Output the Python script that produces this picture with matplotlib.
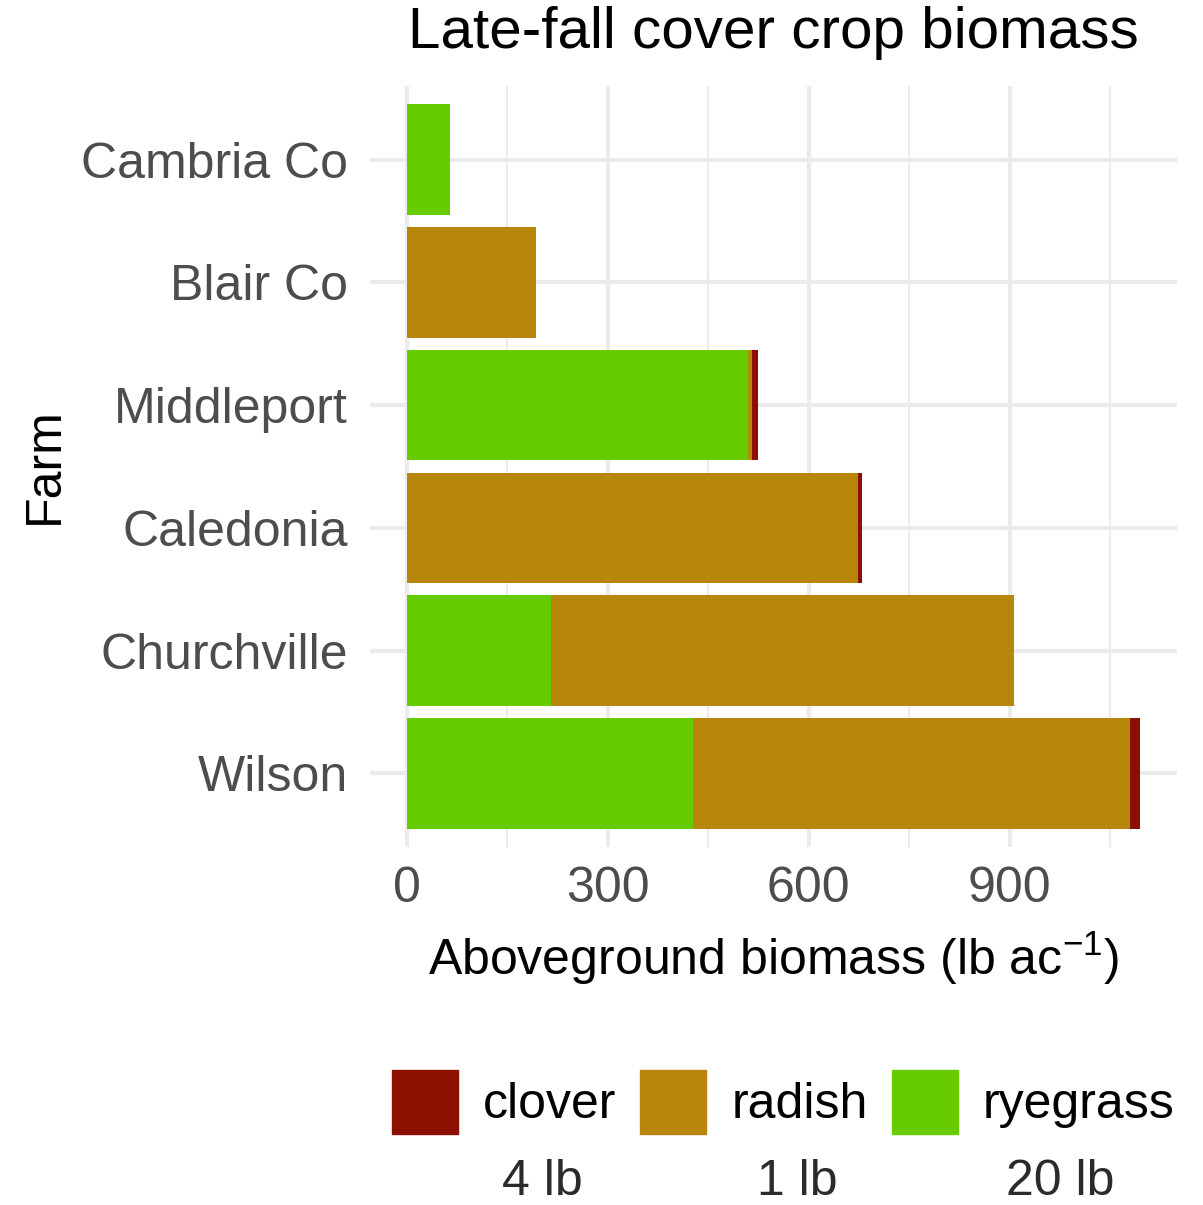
#kirjastot
import numpy as np
import matplotlib.pyplot as plt
from matplotlib.patches import Patch

plt.rcParams['font.family'] = ['Liberation Sans', 'DejaVu Sans']
plt.rcParams['mathtext.fontset'] = 'custom'
plt.rcParams['mathtext.rm'] = 'Liberation Sans'
plt.rcParams['mathtext.it'] = 'Liberation Sans'

# data (lb/ac), alhaalta ylös
farms = ['Wilson', 'Churchville', 'Caledonia', 'Middleport', 'Blair Co', 'Cambria Co']
ryegrass = [427, 216, 0, 509, 0, 64]
radish = [652, 691, 673, 7, 193, 0]
clover = [16, 0, 6, 8, 0, 0]
seed_rates = ['4 lb', '1 lb', '20 lb']

col_clover = '#8B1000'
col_radish = '#B8860B'
col_rye = '#66CC00'

fig = plt.figure(figsize=(12.03, 12.05), dpi=100)
W, H = 1203, 1205
ax = fig.add_axes([370 / W, 1 - 847 / H, (1177 - 370) / W, (847 - 86) / H])

y = np.arange(len(farms))
rye = np.array(ryegrass)
rad = np.array(radish)
clo = np.array(clover)
ax.barh(y, rye, height=0.9, color=col_rye, zorder=3)
ax.barh(y, rad, left=rye, height=0.9, color=col_radish, zorder=3)
ax.barh(y, clo, left=rye + rad, height=0.9, color=col_clover, zorder=3)

tot = (rye + rad + clo).max()
ax.set_xlim(-0.05 * tot, 1.05 * tot)
ax.set_ylim(-0.6, len(farms) - 0.4)
ax.set_yticks(y)
ax.set_yticklabels(farms)
ax.set_xticks([0, 300, 600, 900])
ax.set_xticks([150, 450, 750, 1050], minor=True)
ax.grid(True, which='major', color='#EBEBEB', lw=2.9, zorder=0)
ax.grid(True, which='minor', axis='x', color='#EBEBEB', lw=1.45, zorder=0)
ax.tick_params(which='both', length=0, labelsize=36, labelcolor='#4D4D4D')
ax.tick_params(axis='y', pad=16)
ax.tick_params(axis='x', pad=14)
for s in ax.spines.values():
    s.set_visible(False)

fig.text(773 / W, 1 - 33 / H, 'Late-fall cover crop biomass', fontsize=42,
         ha='center', va='center')
fig.text(773 / W, 1 - 958 / H, 'Aboveground biomass (lb ac$^{-1}$)', fontsize=36,
         ha='center', va='center')
fig.text(45 / W, 1 - 466 / H, 'Farm', fontsize=36, rotation=90,
         ha='center', va='center')

handles = [Patch(color=col_clover), Patch(color=col_radish), Patch(color=col_rye)]
leg = fig.legend(handles, ['clover', 'radish', 'ryegrass'], ncol=3,
                 loc='center left', bbox_to_anchor=(392 / W, 1 - 1102 / H),
                 frameon=False, fontsize=36, handlelength=1.32, handleheight=1.6,
                 handletextpad=0.5, columnspacing=0.48, borderpad=0,
                 borderaxespad=0)

for xx, s in zip([542, 797, 1060], seed_rates):
    fig.text(xx / W, 1 - 1182 / H, s, fontsize=36, color='#2B2B2B',
             ha='center', va='center')

fig.savefig('out.png', dpi=100)
